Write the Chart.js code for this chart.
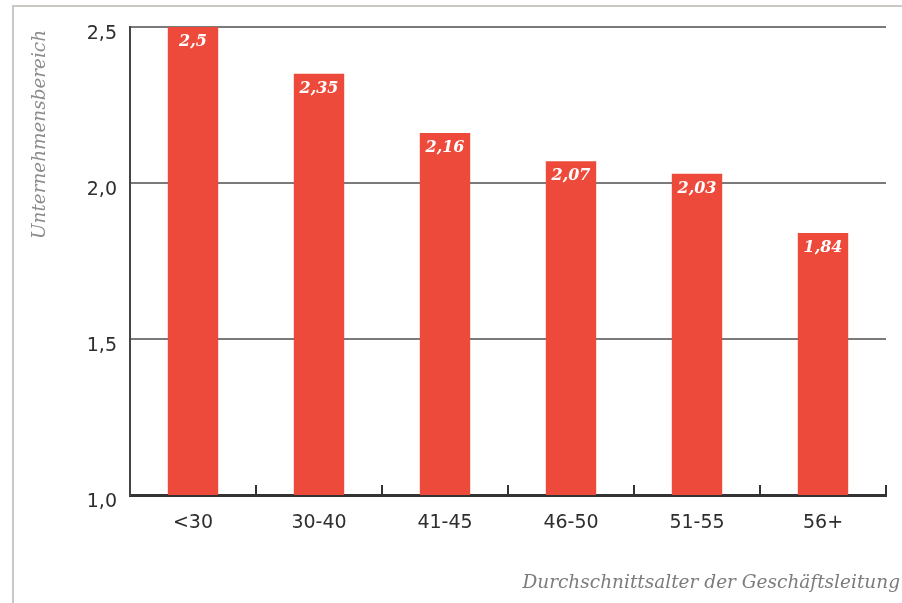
<!DOCTYPE html>
<html>
<head>
<meta charset="utf-8">
<script src="https://cdn.jsdelivr.net/npm/chart.js@4.4.1/dist/chart.umd.min.js"></script>
<style>
    html, body { margin: 0; padding: 0; background: #fff; }
    #wrap { position: relative; width: 902px; height: 603px; overflow: hidden; }
    #frame {
        position: absolute; left: 12px; top: 5px; width: 1000px; height: 1000px;
        border-left: 2px solid #cbc7c2; border-top: 2px solid #cbc7c2;
    }
    #chart { position: absolute; left: 0; top: 0; }
</style>
</head>
<body>
<div id="wrap">
    <div id="frame"></div>
    <canvas id="chart" width="902" height="603"></canvas>
</div>
<script>
// Daten aus der Grafik
const categories = ['<30', '30-40', '41-45', '46-50', '51-55', '56+'];
const values = [2.5, 2.35, 2.16, 2.07, 2.03, 1.84];
const yTicks = [1.0, 1.5, 2.0, 2.5];
const yTitle = 'Unternehmensbereich';
const xTitle = 'Durchschnittsalter der Geschäftsleitung';

const fmt = v => v.toFixed(1).replace('.', ',');
const fmtValue = v => String(v).replace('.', ',');

// Werte in die Balken schreiben
const barLabels = {
    id: 'barLabels',
    afterDatasetsDraw(chart) {
        const ctx = chart.ctx;
        const meta = chart.getDatasetMeta(0);
        ctx.save();
        ctx.fillStyle = '#ffffff';
        ctx.font = 'italic bold 16px "DejaVu Serif"';
        ctx.textAlign = 'center';
        ctx.textBaseline = 'middle';
        meta.data.forEach((bar, i) => {
            ctx.fillText(fmtValue(values[i]), bar.x, bar.y + 15);
        });
        ctx.restore();
    }
};

// Achsentitel frei platziert
const axisTitles = {
    id: 'axisTitles',
    afterDraw(chart) {
        const ctx = chart.ctx;
        ctx.save();
        ctx.fillStyle = '#8c8c8c';
        ctx.font = 'italic 18.4px "DejaVu Serif"';
        ctx.textBaseline = 'middle';
        ctx.translate(40, 30);
        ctx.rotate(-Math.PI / 2);
        ctx.textAlign = 'right';
        ctx.fillText(yTitle, 0, 0);
        ctx.restore();

        ctx.save();
        ctx.fillStyle = '#7c7c7c';
        ctx.font = 'italic 18.5px "DejaVu Serif"';
        ctx.textBaseline = 'middle';
        ctx.textAlign = 'right';
        ctx.fillText(xTitle, 900, 583);
        ctx.restore();
    }
};

new Chart(document.getElementById('chart'), {
    type: 'bar',
    data: {
        labels: categories,
        datasets: [{
            data: values,
            backgroundColor: '#ee4a3b',
            borderWidth: 0,
            barPercentage: 0.4,
            categoryPercentage: 1
        }]
    },
    options: {
        responsive: false,
        animation: false,
        layout: { padding: { left: 0, right: 16, top: 27, bottom: 0 } },
        plugins: { legend: { display: false }, tooltip: { enabled: false } },
        scales: {
            x: {
                grid: {
                    offset: true,
                    drawOnChartArea: false,
                    drawTicks: true,
                    tickLength: -10,
                    color: '#333',
                    lineWidth: 2
                },
                border: { color: '#333', width: 3 },
                ticks: {
                    color: '#2e2e2e',
                    padding: 27,
                    font: { family: '"DejaVu Sans"', size: 19 }
                },
                afterFit(scale) { scale.height = 108; }
            },
            y: {
                min: 1,
                max: 2.5,
                afterBuildTicks(scale) { scale.ticks = yTicks.map(v => ({ value: v })); },
                grid: { color: '#7a7a7a', lineWidth: 2, drawTicks: false },
                border: { color: '#444', width: 2 },
                ticks: {
                    color: '#2e2e2e',
                    padding: 13,
                    labelOffset: 7,
                    callback: v => fmt(v),
                    font: { family: '"DejaVu Sans"', size: 19 }
                },
                afterFit(scale) { scale.width = 130; }
            }
        }
    },
    plugins: [barLabels, axisTitles]
});
</script>
</body>
</html>
